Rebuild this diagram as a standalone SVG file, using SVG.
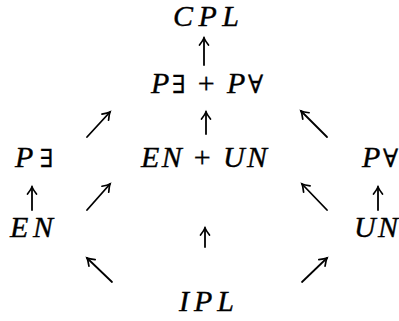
<svg xmlns="http://www.w3.org/2000/svg" width="399" height="321" viewBox="0 0 399 321">
<defs>
<style>
text{font-family:"Liberation Serif","Times New Roman",serif;font-size:30px;fill:#000;stroke:#000;stroke-width:0.35}
.i{font-style:italic}
.q{font-family:"DejaVu Serif",serif;font-size:25px}
.c path{fill:none;stroke:#000;stroke-width:1.8;stroke-linecap:round;stroke-linejoin:round}
</style>
<marker id="ah" viewBox="-9 -6 12 12" markerWidth="12" markerHeight="12" refX="0" refY="0" orient="auto" markerUnits="userSpaceOnUse">
<path d="M-7,-4.5 Q-2.5,-1 0,0 Q-2.5,1 -7,4.5" fill="none" stroke="#000" stroke-width="1.7" stroke-linecap="round"/>
</marker>
</defs>
<rect width="399" height="321" fill="#fff"/>
<g id="CPL"><text x="173" y="26" textLength="66" lengthAdjust="spacing" class="i">CPL</text></g>
<g id="PEPA"><text x="151" y="93" textLength="112" lengthAdjust="spacing"><tspan class="i">P</tspan><tspan class="q">∃</tspan> + <tspan class="i">P</tspan><tspan class="q">∀</tspan></text></g>
<g id="ENUN"><text x="141" y="167" textLength="126" lengthAdjust="spacing"><tspan class="i">EN</tspan> + <tspan class="i">UN</tspan></text></g>
<g id="PE"><text x="15" y="167" textLength="38" lengthAdjust="spacing"><tspan class="i">P</tspan><tspan class="q">∃</tspan></text></g>
<g id="PA"><text x="362" y="167" textLength="36" lengthAdjust="spacing"><tspan class="i">P</tspan><tspan class="q">∀</tspan></text></g>
<g id="EN"><text x="10" y="237" textLength="43" lengthAdjust="spacing" class="i">EN</text></g>
<g id="UN"><text x="354" y="237" textLength="44" lengthAdjust="spacing" class="i">UN</text></g>
<g id="IPL"><text x="179" y="311" textLength="55" lengthAdjust="spacing" class="i">IPL</text></g>
<g id="connectors" class="c">
<path d="M204,65 L204,38" marker-end="url(#ah)"/>
<path d="M206,134 L206,112" marker-end="url(#ah)"/>
<path d="M205,247 L205,228" marker-end="url(#ah)"/>
<path d="M32,210 L32,187" marker-end="url(#ah)"/>
<path d="M378,210 L378,187" marker-end="url(#ah)"/>
<path d="M87,137 L110,112" marker-end="url(#ah)"/>
<path d="M87,210 L110,184" marker-end="url(#ah)"/>
<path d="M327,137 L301,111" marker-end="url(#ah)"/>
<path d="M327,210 L302,184" marker-end="url(#ah)"/>
<path d="M112,282 L87,258" marker-end="url(#ah)"/>
<path d="M302,282 L327,258" marker-end="url(#ah)"/>
</g>
</svg>
